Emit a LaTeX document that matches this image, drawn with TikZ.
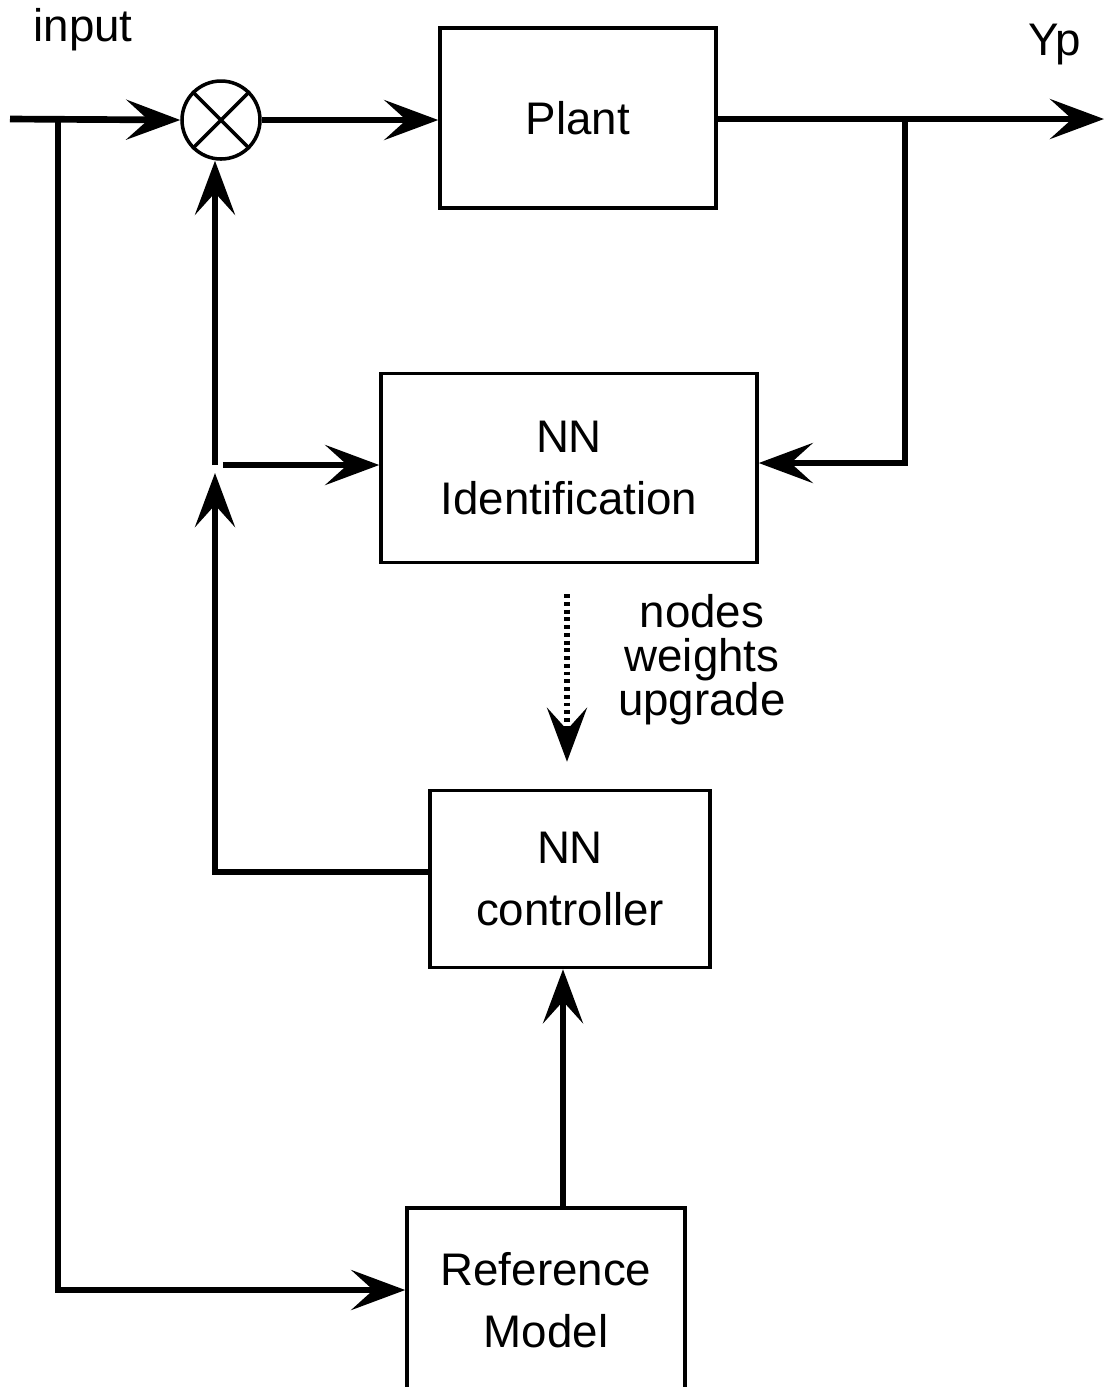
\documentclass[tikz,border=0pt]{standalone}
\usepackage{fontspec}
\setmainfont{Liberation Sans}
\usepackage{tikz}
\usetikzlibrary{arrows.meta}
\tikzset{
  blk/.style={draw=black, line width=1pt, fill=white, align=center, inner sep=0pt,
              font=\fontsize{13}{17.5}\selectfont},
  lbl/.style={font=\fontsize{13}{12.5}\selectfont, align=center},
  arr/.style={-{Stealth[length=5.4mm, width=4mm, inset=2.2mm]}, line width=1.9pt},
  dotarr/.style={arr, dash pattern=on 1.1pt off 1.1pt},
  sumj/.style={circle, draw, line width=1pt, minimum size=0.78cm, inner sep=0pt},
}
\begin{document}
\begin{tikzpicture}
  \useasboundingbox (0,0) rectangle (11.08,-13.87);
  \clip (0,0) rectangle (11.08,-13.87);
  \node[lbl] (inp) at (0.83,-0.30) {input};
  \node[lbl] (yp) at (10.55,-0.45) {Yp};
  \node[sumj] (sum) at (2.21,-1.20) {};
  \draw[line width=1pt] (sum.north west) -- (sum.south east) (sum.north east) -- (sum.south west);
  \node[blk, minimum width=2.76cm, minimum height=1.80cm] (plant) at (5.78,-1.18) {Plant};
  \node[blk, minimum width=3.76cm, minimum height=1.89cm] (nnid) at (5.69,-4.68) {NN\\Identification};
  \node[blk, minimum width=2.80cm, minimum height=1.77cm] (ctrl) at (5.70,-8.79) {NN\\controller};
  \node[blk, minimum width=2.78cm, minimum height=1.84cm] (ref) at (5.46,-13.00) {Reference\\Model};
  \node[lbl] (upg) at (7.02,-6.60) {nodes\\weights\\upgrade};
  % forward path
  \coordinate (src) at (0.10,-1.19);
  \coordinate (tap) at (0.58,-1.19);
  \coordinate (out) at (11.04,-1.19);
  \coordinate (tapy) at (9.05,-1.19);
  \coordinate (jn) at (2.15,-4.65);
  \draw[arr] (src) -- (sum.west);
  \draw[arr] (sum.east) -- (plant.west |- sum.east);
  \draw[arr] (plant.east |- out) -- (out);
  \draw[arr] (tapy) |- ([yshift=0.5mm]nnid.east);
  \draw[arr] (tap) |- ([yshift=1mm]ref.west);
  % feedback from controller
  \draw[arr, shorten >=0.8mm] ([yshift=0.7mm]ctrl.west) -| (jn);
  \draw[arr] (jn) -- (jn |- sum.south);
  \draw[arr] ([xshift=0.8mm]jn) -- (nnid.west |- jn);
  \draw[dotarr, shorten <=3mm, shorten >=2.7mm] ([xshift=-0.2mm]nnid.south) -- ([xshift=-0.2mm]nnid.south |- ctrl.north);
  \draw[arr] ([xshift=1.7mm]ref.north) -- ([xshift=1.7mm]ref.north |- ctrl.south);
\end{tikzpicture}
\end{document}
